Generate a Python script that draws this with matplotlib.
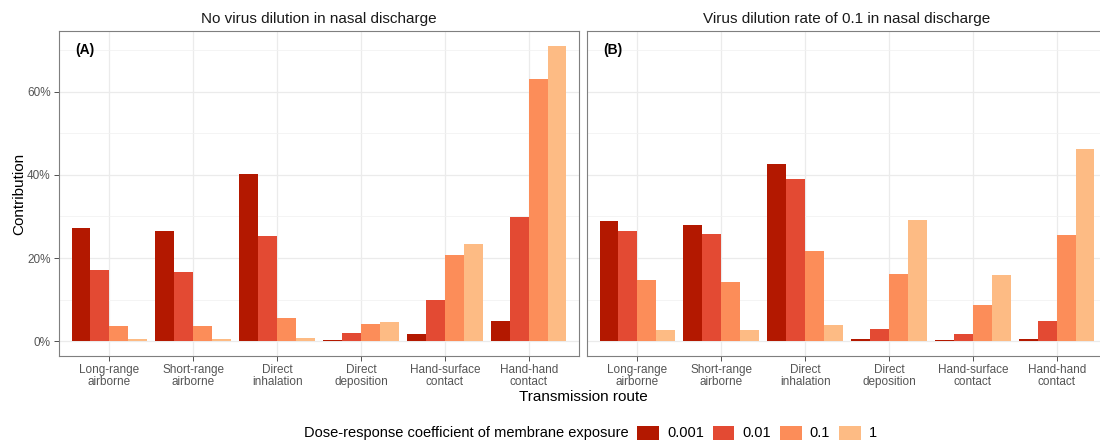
import numpy as np
import matplotlib
matplotlib.use("Agg")
import matplotlib.pyplot as plt
from matplotlib.patches import Patch
from matplotlib.ticker import FuncFormatter, MultipleLocator

plt.rcParams['font.family'] = ['Liberation Sans', 'DejaVu Sans']

routes = ["Long-range\nairborne", "Short-range\nairborne", "Direct\ninhalation",
          "Direct\ndeposition", "Hand-surface\ncontact", "Hand-hand\ncontact"]
coefs = ["0.001", "0.01", "0.1", "1"]
colors = ["#b31800", "#e34a33", "#fc8d59", "#fdbb84"]

# contribution (%) per route, one list per dose-response coefficient
no_dilution = {
    "0.001": [27.3, 26.5, 40.2, 0.4, 1.7, 4.8],
    "0.01":  [17.2, 16.7, 25.3, 2.0, 9.8, 29.8],
    "0.1":   [3.7, 3.7, 5.5, 4.1, 20.7, 63.1],
    "1":     [0.6, 0.6, 0.8, 4.6, 23.3, 71.0],
}
dilution_01 = {
    "0.001": [28.9, 28.0, 42.6, 0.5, 0.3, 0.6],
    "0.01":  [26.6, 25.8, 39.1, 3.0, 1.8, 4.8],
    "0.1":   [14.6, 14.2, 21.6, 16.1, 8.8, 25.5],
    "1":     [2.8, 2.6, 4.0, 29.2, 15.9, 46.2],
}

fig = plt.figure(figsize=(11, 4.48), dpi=100)
W, H = 1100, 448
ax_a = fig.add_axes([59 / W, 1 - 356 / H, 520 / W, 325 / H])
ax_b = fig.add_axes([587 / W, 1 - 356 / H, 520 / W, 325 / H])

x = np.arange(1, len(routes) + 1)
bw = 0.225
ymax = max(max(v) for v in no_dilution.values())


def panel(ax, data, title, tag, show_y):
    for i, c in enumerate(coefs):
        ax.bar(x + (i - 1.5) * bw, data[c], width=bw, color=colors[i],
               linewidth=0, zorder=2)
    ax.set_xlim(0.4, 6.6)
    ax.set_ylim(-0.05 * ymax, 1.05 * ymax)
    ax.set_xticks(x)
    ax.set_xticklabels(routes, fontsize=8.5, color="#555555", linespacing=1.0)
    ax.yaxis.set_major_locator(MultipleLocator(20))
    ax.yaxis.set_minor_locator(MultipleLocator(10))
    ax.yaxis.set_major_formatter(FuncFormatter(lambda v, p: f"{v:.0f}%"))
    ax.tick_params(axis="both", which="major", length=3.5, width=0.6,
                   color="#333333", labelsize=8.5, labelcolor="#555555", pad=2.5)
    ax.tick_params(axis="y", which="minor", length=0)
    if not show_y:
        ax.tick_params(axis="y", which="major", length=0, labelleft=False)
    ax.grid(True, which="major", color="#ebebeb", linewidth=0.9, zorder=0)
    ax.grid(True, which="minor", axis="y", color="#f2f2f2", linewidth=0.6, zorder=0)
    ax.set_axisbelow(True)
    for s in ax.spines.values():
        s.set_color("#7f7f7f")
        s.set_linewidth(0.8)
    ax.set_title(title, fontsize=11, color="#1a1a1a", pad=6)
    ax.text(16 / 520, 1 - 19 / 325, tag, transform=ax.transAxes, fontsize=10,
            fontweight="bold", ha="left", va="center")


panel(ax_a, no_dilution, "No virus dilution in nasal discharge", "(A)", True)
panel(ax_b, dilution_01, "Virus dilution rate of 0.1 in nasal discharge", "(B)", False)

ax_a.set_ylabel("Contribution", fontsize=11, labelpad=0.5)
fig.text(583 / W, 1 - 397 / H, "Transmission route", fontsize=11,
         ha="center", va="center")

fig.text(629 / W, 1 - 433 / H, "Dose-response coefficient of membrane exposure",
         fontsize=10.5, ha="right", va="center")
handles = [Patch(facecolor=c, edgecolor="none", label=l) for c, l in zip(colors, coefs)]
fig.legend(handles=handles, loc="center left", bbox_to_anchor=(637 / W, 1 - 433 / H),
           ncol=4, frameon=False, fontsize=10.5, handlelength=1.5, handleheight=1.1,
           handletextpad=0.55, columnspacing=0.6, borderaxespad=0, borderpad=0)

fig.savefig("out.png", dpi=100)
